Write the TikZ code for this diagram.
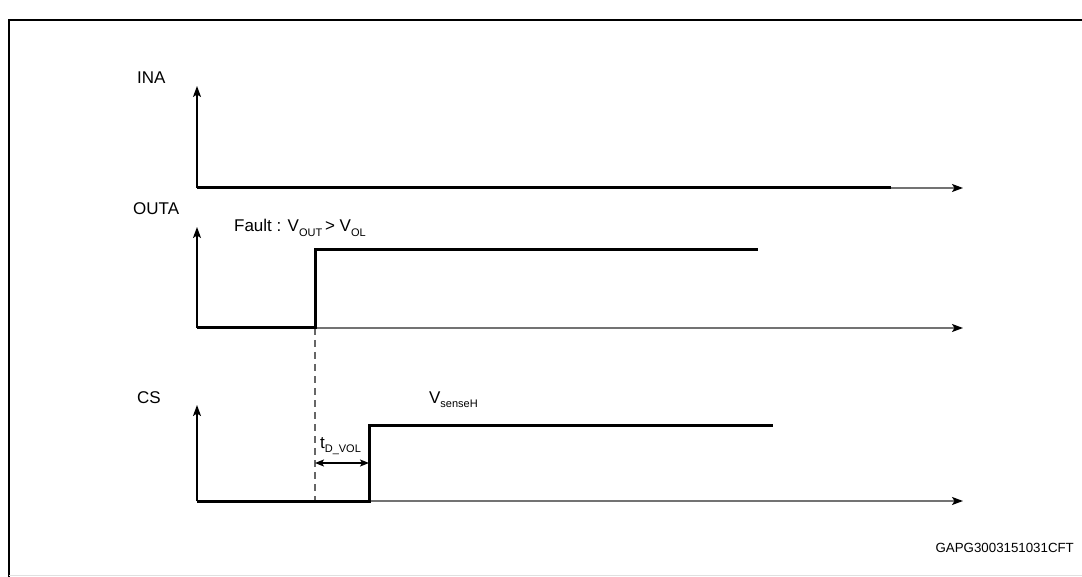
\documentclass[tikz,border=0pt]{standalone}
\usepackage{fontspec}
\setmainfont{Liberation Sans}
\usetikzlibrary{arrows.meta}

\tikzset{every picture/.style={line width=0.75pt}}
\tikzset{
  frameline/.style={line width=1.6pt},
  vaxis/.style={line width=1.4pt, -{Stealth[length=11pt,width=8pt,inset=2.5pt]}},
  taxis/.style={line width=1.5pt, draw=black!55, -{Stealth[length=11pt,width=8pt,inset=2.5pt,color=black]}},
  signal/.style={line width=3pt},
  marker/.style={line width=1.1pt, draw=black!60, dash pattern=on 7pt off 5pt},
  lbl/.style={inner sep=0.75pt, font=\fontsize{17}{20}\selectfont},
}
\newcommand{\lowsub}[1]{\raisebox{-4.5pt}{\fontsize{11}{11}\selectfont #1}}

\begin{document}
\begin{tikzpicture}[x=1pt,y=1pt,yscale=-1,xscale=1]
\useasboundingbox (0,0) rectangle (1082,577);

%Frame
\draw [frameline] (9,577) -- (9,20) -- (1082,20) ;
\draw [line width=1pt, draw=black!12] (9,575) -- (1082,575) ;

%Coordinates of the three plots
\coordinate (inaO) at (197,188);
\coordinate (inaY) at (197,86);
\coordinate (inaX) at (963,188);
\coordinate (inaE) at (891,188);
\coordinate (outO) at (197,328);
\coordinate (outY) at (197,227);
\coordinate (outX) at (963,328);
\coordinate (outR) at (315,328);
\coordinate (outH) at (315,250);
\coordinate (outE) at (758,250);
\coordinate (csO) at (197,501);
\coordinate (csY) at (197,405);
\coordinate (csX) at (963,501);
\coordinate (csR) at (369,501);
\coordinate (csH) at (369,425);
\coordinate (csE) at (773,425);
\coordinate (dlyA) at (315,463);
\coordinate (dlyB) at (369,463);
\coordinate (mkB) at (315,501);

%Straight Lines : axes
\draw [taxis] (inaO) -- (inaX) ;
\draw [vaxis] (inaO) -- (inaY) ;
\draw [taxis] (outO) -- (outX) ;
\draw [vaxis] (outO) -- (outY) ;
\draw [taxis] (csO) -- (csX) ;
\draw [vaxis] (csO) -- (csY) ;

%Dashed marker
\draw [marker] (outR) -- (mkB) ;

%Signals
\draw [signal] (inaO) -- (inaE) ;
\draw [signal] (outO) -- (outR) -- (outH) -- (outE) ;
\draw [signal] (csO) -- (csR) -- (csH) -- (csE) ;

%Delay arrow
\draw [line width=1.3pt, {Stealth[length=9pt,width=7pt,inset=2pt]}-{Stealth[length=9pt,width=7pt,inset=2pt]}] (dlyA) -- (dlyB) ;

% Text Node
\draw (136,84) node (lblIna) [anchor=base west][lbl] {INA};
% Text Node
\draw (132,215) node (lblOut) [anchor=base west][lbl] {OUTA};
% Text Node
\draw (136,403) node (lblCs) [anchor=base west][lbl] {CS};
% Text Node
\draw (233,232) node (lblFault) [anchor=base west][lbl] {Fault : V\lowsub{OUT}\,> V\lowsub{OL}};
% Text Node
\draw (428,403) node (lblSense) [anchor=base west][lbl] {V\lowsub{senseH}};
% Text Node
\draw (319,448) node (lblDly) [anchor=base west][lbl] {t\lowsub{D\_VOL}};
% Text Node
\draw (1075,552) node (lblCode) [anchor=base east][inner sep=0.75pt, font=\fontsize{13.3}{15}\selectfont] {GAPG3003151031CFT};

\end{tikzpicture}
\end{document}
